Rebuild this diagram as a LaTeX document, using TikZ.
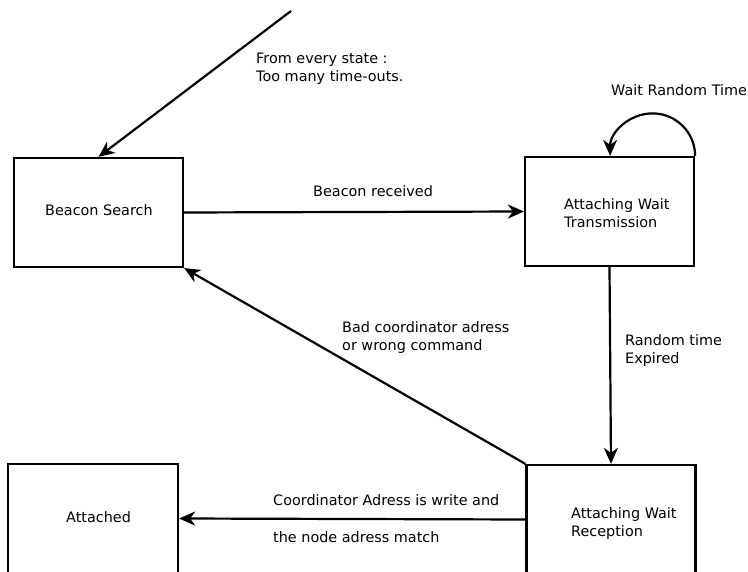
\documentclass[tikz,border=0pt]{standalone}
\usepackage{fontspec}
\setmainfont{DejaVu Sans}
\usetikzlibrary{arrows.meta}
\begin{document}
\begin{tikzpicture}[x=1pt,y=-1pt,
  state/.style={draw,line width=2.2pt,rectangle,inner sep=0pt,minimum width=169pt,minimum height=109pt},
  txt/.style={anchor=base west,inner sep=0pt,font=\fontsize{14.4}{18}\selectfont},
  trans/.style={line width=2.2pt,-{Stealth[length=16pt,width=14pt,inset=5pt]}}]
\useasboundingbox (0,0) rectangle (748,572);
\clip (0,0) rectangle (748,572);
\fill[white] (0,0) rectangle (748,572);

% states
\node[state] (bs)  at (98.5,212.5) {};
\node[state] (awt) at (609.5,211.5) {};
\node[state] (awr) at (611,519.5) {};
\node[state,minimum width=170pt] (att) at (93,518.5) {};

% state names
\node[txt] (bsname)  at (45,216) {Beacon Search};
\node[txt] (awtname1) at (564,210) {Attaching Wait};
\node[txt] (awtname2) at (564,228) {Transmission};
\node[txt] (awrname1) at (571,518) {Attaching Wait};
\node[txt] (awrname2) at (571,536) {Reception};
\node[txt] (attname) at (66,522) {Attached};

% transitions
\coordinate (anywhere) at (291,11);
\draw[trans] (anywhere) -- (bs.north);
\draw[trans] (bs.east) -- (awt.west);
\draw[trans] (awt.north east) arc[start angle=0,end angle=-180,radius=42.5];
\draw[trans] (awt.south) -- (awr.north);
\draw[trans] (awr.north west) -- (bs.south east);
\draw[trans] (awr.west) -- (att.east);

% transition labels
\node[txt] (l1a) at (256,64) {From every state :};
\node[txt] (l1b) at (256,82) {Too many time-outs.};
\node[txt] (l2)  at (313,197) {Beacon received};
\node[txt] (l3)  at (611,96) {Wait Random Time};
\node[txt] (l4a) at (625,346) {Random time};
\node[txt] (l4b) at (625,364) {Expired};
\node[txt] (l5a) at (342,333) {Bad coordinator adress};
\node[txt] (l5b) at (342,351) {or wrong command};
\node[txt] (l6a) at (273,505) {Coordinator Adress is write and};
\node[txt] (l6b) at (273,542) {the node adress match};
\end{tikzpicture}
\end{document}
